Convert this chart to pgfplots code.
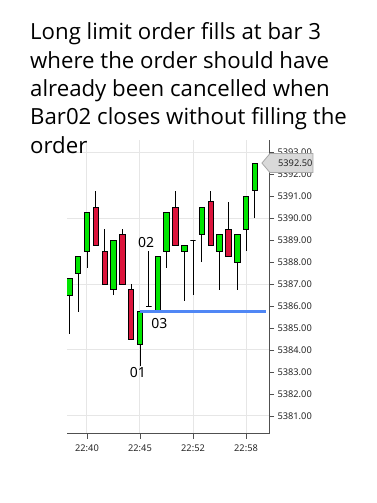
\documentclass[border=0pt]{standalone}
\usepackage{fontspec}
\setmainfont{Open Sans}
\newfontfamily\tickfont{Noto Sans}
\usepackage{pgfplots}
\pgfplotsset{compat=1.18}
\definecolor{upc}{HTML}{00E600}
\definecolor{dnc}{HTML}{DC143C}
\definecolor{gridc}{HTML}{E6E6E6}
\definecolor{axc}{HTML}{505050}
\definecolor{ordc}{RGB}{80,135,245}
\definecolor{pmfill}{HTML}{D9D9D9}
\definecolor{pmdraw}{HTML}{A8A8A8}
% candle body: position, open, close, colour
\newcommand{\body}[4]{%
  \pgfmathsetmacro\xa{#1-0.31}\pgfmathsetmacro\xb{#1+0.31}%
  \addplot[fill=#4, draw=black, line width=0.8bp] coordinates {(\xa,#2) (\xb,#2) (\xb,#3) (\xa,#3)} -- cycle;
}
\begin{document}
\begin{tikzpicture}
\path[use as bounding box] (0,0) rectangle (377bp,503bp);
\begin{axis}[
  at={(67bp,69bp)}, anchor=south west, scale only axis,
  width=202bp, height=294bp,
  xmin=-0.26, xmax=22.6, ymin=5380.18, ymax=5393.55,
  axis x line*=bottom, axis y line*=right,
  axis line style={axc, line width=1bp},
  tick style={axc, line width=0.8bp},
  major tick length=5bp, tick align=outside,
  xtick={2,8,14,20}, xticklabels={22:40,22:45,22:52,22:58},
  xmajorgrids=true,
  grid style={gridc, line width=1bp},
  ytick={5381,5382,...,5393},
  extra y ticks={5381,5384,5387,5390,5393},
  extra y tick labels={},
  extra y tick style={ymajorgrids=true},
  /pgf/number format/assume math mode=true,
  yticklabel style={font=\tickfont\fontsize{9.3}{11}\selectfont, text=black!85,
    /pgf/number format/fixed, /pgf/number format/fixed zerofill,
    /pgf/number format/precision=2, /pgf/number format/1000 sep={}},
  xticklabel style={font=\tickfont\fontsize{9.3}{11}\selectfont, text=black!85, yshift=-2bp},
  clip=true,
]
% wicks: (bar, low) -- (bar, high)
\addplot[black, line width=0.8bp, unbounded coords=jump] coordinates {
 (0,5384.75) (0,5387.25) (0,nan)
 (1,5385.75) (1,5388.25) (1,nan)
 (2,5387.75) (2,5390.25) (2,nan)
 (3,5388.75) (3,5391.25) (3,nan)
 (4,5387.0) (4,5389.5) (4,nan)
 (5,5386.5) (5,5389.0) (5,nan)
 (6,5387.0) (6,5389.5) (6,nan)
 (7,5384.5) (7,5387.0) (7,nan)
 (8,5383.25) (8,5385.75) (8,nan)
 (9,5386.0) (9,5388.5) (9,nan)
 (10,5385.75) (10,5388.25) (10,nan)
 (11,5387.75) (11,5390.25) (11,nan)
 (12,5388.75) (12,5391.25) (12,nan)
 (13,5386.25) (13,5388.75) (13,nan)
 (14,5386.5) (14,5389.0) (14,nan)
 (15,5388.0) (15,5390.5) (15,nan)
 (16,5388.75) (16,5391.25) (16,nan)
 (17,5386.75) (17,5389.25) (17,nan)
 (18,5388.25) (18,5390.75) (18,nan)
 (19,5386.75) (19,5389.25) (19,nan)
 (20,5388.5) (20,5391.0) (20,nan)
 (21,5390.0) (21,5392.5)
};
% bodies: bar, open, close
\body{0}{5386.5}{5387.25}{upc}
\body{1}{5387.5}{5388.25}{upc}
\body{2}{5388.5}{5390.25}{upc}
\body{3}{5390.5}{5388.75}{dnc}
\body{4}{5388.5}{5387.0}{dnc}
\body{5}{5386.75}{5389.0}{upc}
\body{6}{5389.25}{5387.0}{dnc}
\body{7}{5386.75}{5384.5}{dnc}
\body{8}{5384.25}{5385.75}{upc}
\body{9}{5386.0}{5386.0}{upc}
\body{10}{5385.75}{5388.25}{upc}
\body{11}{5388.5}{5390.25}{upc}
\body{12}{5390.5}{5388.75}{dnc}
\body{13}{5388.5}{5388.75}{upc}
\body{14}{5389.0}{5389.0}{upc}
\body{15}{5389.25}{5390.5}{upc}
\body{16}{5390.75}{5388.75}{dnc}
\body{17}{5388.5}{5389.25}{upc}
\body{18}{5389.5}{5388.25}{dnc}
\body{19}{5388.0}{5389.25}{upc}
\body{20}{5389.5}{5391.0}{upc}
\body{21}{5391.25}{5392.5}{upc}
% limit order price line
\addplot[color=ordc, draw=ordc, line width=2.4bp, opacity=1, mark=none] coordinates {(8.0,5385.75) (22.3,5385.75)};
\node[font=\tickfont\fontsize{14}{16}\selectfont] at (axis cs:7.75,5382.99) {01};
\node[font=\tickfont\fontsize{14}{16}\selectfont] at (axis cs:8.69,5388.88) {02};
\node[font=\tickfont\fontsize{14}{16}\selectfont] at (axis cs:10.19,5385.21) {03};
\coordinate (pm) at (axis cs:21.8,5392.5);
\end{axis}
\begin{scope}
\path[fill=pmfill, draw=pmdraw, line width=0.8bp] (pm) -- ++(8bp,9.5bp) -- ++(43bp,0) -- ++(0,-19bp) -- ++(-43bp,0) -- cycle;
\clip (pm) -- ++(8bp,9.5bp) -- ++(43bp,0) -- ++(0,-19bp) -- ++(-43bp,0) -- cycle;
\node[anchor=west, inner sep=0, font=\tickfont\fontsize{9.3}{11}\selectfont, text=black!85] at ([xshift=16bp]pm) {5392.50};
\end{scope}
\foreach \t/\yy in {{Long limit order fills at bar 3}/463, {where the order should have}/434.7, {already been cancelled when}/406.3, {Bar02 closes without filling the}/378, {order}/349.7}{
  \node[anchor=base west, inner sep=0, font=\fontsize{22.3}{28}\selectfont] at (30bp,\yy bp) {\t};
}
\end{tikzpicture}
\end{document}
